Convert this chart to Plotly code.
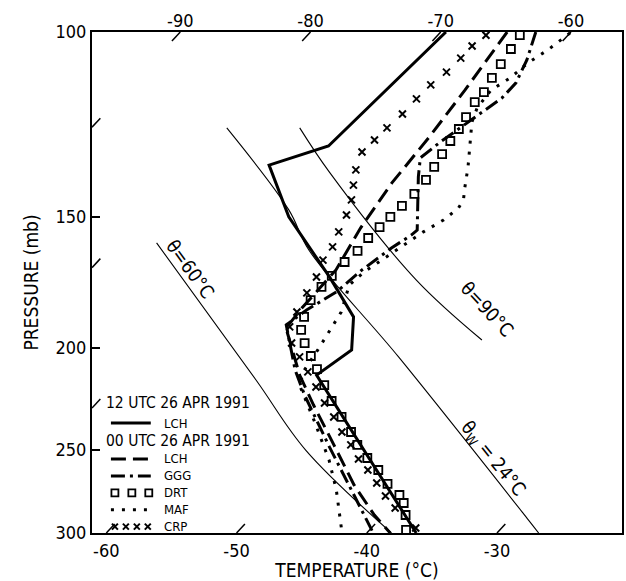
import numpy as np
import plotly.graph_objects as go

# ---------------- data (pressure in mb, temperature in deg C) ----------------
lch12_p = [100.0, 128.4, 133.9, 150.0, 171.1, 186.8, 200.8, 212.2, 300.0]
lch12_t = [-69.6, -70.5, -73.7, -68.5, -61.1, -56.4, -54.2, -55.1, -36.2]

lch00_p = [100.0, 113.6, 125.9, 139.3, 153.7, 168.5, 183.2, 191.4, 212.2, 226.6, 247.3, 270.0, 288.4, 300.0]
lch00_t = [-64.9, -64.0, -63.4, -63.0, -62.2, -61.1, -61.0, -60.8, -56.4, -53.2, -48.8, -44.4, -40.7, -38.2]

ggg_p = [100.0, 106.3, 111.8, 115.6, 121.3, 127.3, 131.8, 137.4, 154.4, 156.1, 160.6, 168.5, 176.8,
         184.0, 190.1, 198.6, 209.9, 221.7, 234.2, 248.4, 270.0, 288.4, 300.0]
ggg_t = [-62.7, -61.4, -60.6, -60.6, -61.4, -62.2, -62.6, -61.4, -57.7, -57.8, -58.4, -59.1, -59.5,
         -60.5, -61.0, -59.3, -57.1, -54.6, -51.9, -49.0, -44.8, -41.5, -39.5]

drt_p = [100.7, 103.8, 107.3, 110.6, 114.1, 116.6, 120.5, 123.7, 127.0, 130.7, 134.4, 138.3, 142.6,
         146.4, 150.0, 153.4, 157.1, 161.6, 165.6, 170.7, 174.9, 180.0, 186.8, 192.2, 197.8, 203.5,
         209.4, 216.9, 224.6, 232.6, 240.4, 247.3, 254.5, 261.3, 269.4, 276.0, 280.9, 288.4, 298.0]
drt_t = [-63.7, -63.4, -63.1, -62.8, -62.4, -62.4, -62.0, -61.7, -61.5, -61.2, -60.9, -60.6, -60.5,
         -60.6, -60.7, -60.8, -60.9, -60.8, -61.0, -61.0, -61.0, -60.9, -60.2, -59.5, -58.3, -56.9,
         -55.5, -53.8, -52.1, -50.2, -48.4, -47.0, -45.3, -43.6, -41.9, -40.2, -39.3, -38.3, -37.2]

maf_p = [100.2, 104.0, 107.0, 110.6, 113.6, 118.1, 121.8, 128.1, 134.4, 140.5, 144.5, 147.1, 151.0,
         155.0, 160.2, 164.9, 169.3, 174.2, 184.8, 200.8, 209.9, 216.9, 234.2, 255.6, 273.0, 300.0]
maf_t = [-60.0, -60.5, -61.1, -61.4, -62.0, -61.8, -61.2, -59.7, -58.3, -57.1, -56.3, -56.1, -56.4,
         -57.1, -57.7, -58.3, -58.8, -59.0, -57.7, -56.8, -56.4, -55.7, -52.1, -48.1, -45.4, -41.9]

crp_p = [100.7, 103.1, 105.9, 109.2, 112.3, 115.8, 119.7, 123.4, 126.7, 130.1, 135.3, 139.9, 144.5,
         149.4, 155.0, 160.2, 164.9, 171.1, 177.2, 184.8, 190.9, 197.8, 203.9, 210.7, 217.8, 225.6,
         232.6, 240.4, 247.3, 255.1, 261.3, 268.8, 276.6, 284.0, 296.7]
crp_t = [-66.3, -66.6, -66.6, -66.7, -67.0, -67.1, -67.1, -67.3, -67.4, -67.5, -66.7, -65.8, -64.9,
         -64.2, -63.6, -63.0, -62.8, -62.1, -61.7, -61.1, -60.6, -59.3, -57.7, -56.0, -54.3, -52.5,
         -50.8, -49.1, -47.5, -45.9, -44.4, -42.8, -41.2, -39.6, -36.6]

# reference lines
th60_p = [158.8, 214.5, 250.1, 300.0]
th60_t = [-76.8, -59.4, -50.6, -38.1]
th90_p = [123.4, 135.9, 172.3, 196.5]
th90_t = [-74.0, -68.6, -54.2, -44.9]
thw24_p = [123.4, 147.7, 161.3, 203.9, 291.6, 300.0]
thw24_t = [-79.6, -69.0, -64.6, -50.1, -28.5, -26.8]

# tick labels
bottom_ticks = [-60, -50, -40, -30]      # isotherms labelled at 300 mb
top_ticks = [-90, -80, -70, -60]         # isotherms labelled at 100 mb
left_isotherms = [-70, -80, -90]         # isotherms crossing the left edge
p_ticks = [100, 150, 200, 250, 300]

# legend texts
legend_headers = ["12 UTC 26 APR 1991", "00 UTC 26 APR 1991"]
station_12 = "LCH"
stations_00 = ["LCH", "GGG", "DRT", "MAF", "CRP"]

# ---------------- skew-T geometry ----------------
SKEW = 35.68          # deg C shift of an isotherm between 300 and 100 mb
X_MIN, X_MAX = -61.1, -20.4

W, H = 626, 581
ML, MR, MT, MB = 92, 2, 32, 48
PW, PH = W - ML - MR, H - MT - MB


def sx(p, t):
    p = np.asarray(p, float)
    t = np.asarray(t, float)
    return t + SKEW * np.log(300.0 / p) / np.log(3.0)


def fx(px):   # pixel -> paper (layout helper)
    return (px - ML) / PW


def fy(py):
    return (MT + PH - py) / PH


FONT = "DejaVu Sans Condensed, Liberation Sans Narrow, DejaVu Sans, sans-serif"
BLK = "black"

fig = go.Figure()

# reference lines
for pp, tt in [(th60_p, th60_t), (th90_p, th90_t), (thw24_p, thw24_t)]:
    fig.add_trace(go.Scatter(x=sx(pp, tt), y=pp, mode="lines", line=dict(color=BLK, width=1.1, shape="spline"),
                             showlegend=False, hoverinfo="skip"))

# slanted isotherm tick marks (bottom, left, top)
DP = 3.0 ** (9.0 / 501.0)
for t in bottom_ticks:
    pp = [300.0, 300.0 / DP]
    fig.add_trace(go.Scatter(x=sx(pp, [t, t]), y=pp, mode="lines", line=dict(color=BLK, width=1.5),
                             showlegend=False, hoverinfo="skip"))
for t in left_isotherms:
    p0 = 300.0 / 3.0 ** ((X_MIN - t) / SKEW)
    pp = [p0, p0 / DP]
    fig.add_trace(go.Scatter(x=sx(pp, [t, t]), y=pp, mode="lines", line=dict(color=BLK, width=1.5),
                             showlegend=False, hoverinfo="skip"))
for t in top_ticks:
    pp = [100.0, 100.0 * DP]
    fig.add_trace(go.Scatter(x=sx(pp, [t, t]) - SKEW, y=pp, xaxis="x2", mode="lines",
                             line=dict(color=BLK, width=1.5), showlegend=False, hoverinfo="skip"))

# soundings
DASH_LCH = "15px,7px"
DASH_GGG = "14px,5px,3px,5px"
DASH_MAF = "3px,8px"
fig.add_trace(go.Scatter(x=sx(lch12_p, lch12_t), y=lch12_p, mode="lines", name="LCH 12 UTC",
                         line=dict(color=BLK, width=3), showlegend=False))
fig.add_trace(go.Scatter(x=sx(lch00_p, lch00_t), y=lch00_p, mode="lines", name="LCH",
                         line=dict(color=BLK, width=3, dash=DASH_LCH), showlegend=False))
fig.add_trace(go.Scatter(x=sx(ggg_p, ggg_t), y=ggg_p, mode="lines", name="GGG",
                         line=dict(color=BLK, width=3, dash=DASH_GGG), showlegend=False))
fig.add_trace(go.Scatter(x=sx(drt_p, drt_t), y=drt_p, mode="markers", name="DRT",
                         marker=dict(symbol="square-open", size=8, color=BLK, line=dict(width=1.8)),
                         showlegend=False))
fig.add_trace(go.Scatter(x=sx(maf_p, maf_t), y=maf_p, mode="lines", name="MAF",
                         line=dict(color=BLK, width=3, dash=DASH_MAF), showlegend=False))
fig.add_trace(go.Scatter(x=sx(crp_p, crp_t), y=crp_p, mode="markers", name="CRP",
                         marker=dict(symbol="x-thin", size=7, color=BLK, line=dict(width=2, color=BLK)),
                         showlegend=False))

# ---------------- annotations on the diagram ----------------
ann = [
    dict(text="θ=60°C", x=fx(191), y=fy(269), textangle=54),
    dict(text="θ=90°C", x=fx(489), y=fy(309), textangle=47),
    dict(text="θ<sub>W</sub> = 24°C", x=fx(495), y=fy(459), textangle=51),
]
for a in ann:
    fig.add_annotation(xref="paper", yref="paper", showarrow=False, xanchor="center", yanchor="middle",
                       font=dict(size=19, family=FONT, color=BLK), **a)

# ---------------- hand-made legend (as in the original figure) ----------------
HDR_FONT = dict(size=15.5, family=FONT, color=BLK)
LEG_FONT = dict(size=13, family=FONT, color=BLK)
ROW = 1.3 * LEG_FONT["size"]          # line spacing of a multi-line annotation
Y_HDR1, Y_LCH12, Y_HDR2, Y_FIRST = 403, 423, 441, 459
rows00 = [Y_FIRST + i * ROW for i in range(len(stations_00))]

for txt, yy in zip(legend_headers, (Y_HDR1, Y_HDR2)):
    fig.add_annotation(xref="paper", yref="paper", x=fx(105), y=fy(yy), text=txt, showarrow=False,
                       xanchor="left", yanchor="middle", borderpad=0, font=HDR_FONT)
fig.add_annotation(xref="paper", yref="paper", x=fx(163), y=fy(Y_LCH12), text=station_12, showarrow=False,
                   xanchor="left", yanchor="middle", borderpad=0, font=LEG_FONT)
fig.add_annotation(xref="paper", yref="paper", x=fx(163), y=fy(rows00[2]), text="<br>".join(stations_00),
                   showarrow=False, xanchor="left", yanchor="middle", align="left", borderpad=0, font=LEG_FONT)

shapes = []
line_keys = [(Y_LCH12, "solid"), (rows00[0], DASH_LCH), (rows00[1], DASH_GGG), (rows00[3], DASH_MAF)]
for ry, dash in line_keys:
    shapes.append(dict(type="line", xref="paper", yref="paper", x0=fx(111), x1=fx(151), y0=fy(ry), y1=fy(ry),
                       line=dict(color=BLK, width=3, dash=dash)))
# DRT key: three open squares
for cx in (115, 132, 149):
    shapes.append(dict(type="rect", xref="paper", yref="paper", x0=fx(cx - 3.5), x1=fx(cx + 3.5),
                       y0=fy(rows00[2] - 3.5), y1=fy(rows00[2] + 3.5), line=dict(color=BLK, width=1.8)))
# CRP key: four crosses
for cx in (115, 126, 137, 148):
    for s in (1, -1):
        shapes.append(dict(type="line", xref="paper", yref="paper", x0=fx(cx - 3), x1=fx(cx + 3),
                           y0=fy(rows00[4] - 3 * s), y1=fy(rows00[4] + 3 * s), line=dict(color=BLK, width=2)))

fig.update_layout(
    width=W, height=H,
    margin=dict(l=ML, r=MR, t=MT, b=MB),
    paper_bgcolor="white", plot_bgcolor="white",
    font=dict(family=FONT, size=18, color=BLK),
    shapes=shapes,
    showlegend=False,
    xaxis=dict(range=[X_MIN, X_MAX], tickvals=bottom_ticks, ticktext=[str(v) for v in bottom_ticks],
               ticks="", showgrid=False, zeroline=False, showline=True, linecolor=BLK, linewidth=2,
               mirror=True, tickfont=dict(size=18), title=dict(text="TEMPERATURE (°C)", standoff=0,
                                                                font=dict(size=19))),
    xaxis2=dict(range=[X_MIN - SKEW, X_MAX - SKEW], overlaying="x", side="top", tickvals=top_ticks,
                ticktext=[str(v) for v in top_ticks], ticks="", showgrid=False, zeroline=False,
                showline=False, tickfont=dict(size=18)),
    yaxis=dict(type="log", range=[np.log10(300), np.log10(100)], tickvals=p_ticks,
               ticktext=[str(v) for v in p_ticks], ticks="inside", ticklen=8, tickwidth=1.5,
               tickcolor=BLK, showgrid=False, zeroline=False, showline=True, linecolor=BLK,
               linewidth=2, mirror=True, tickfont=dict(size=18),
               title=dict(text="PRESSURE (mb)", standoff=12, font=dict(size=19))),
)

fig.write_html("out.html")
